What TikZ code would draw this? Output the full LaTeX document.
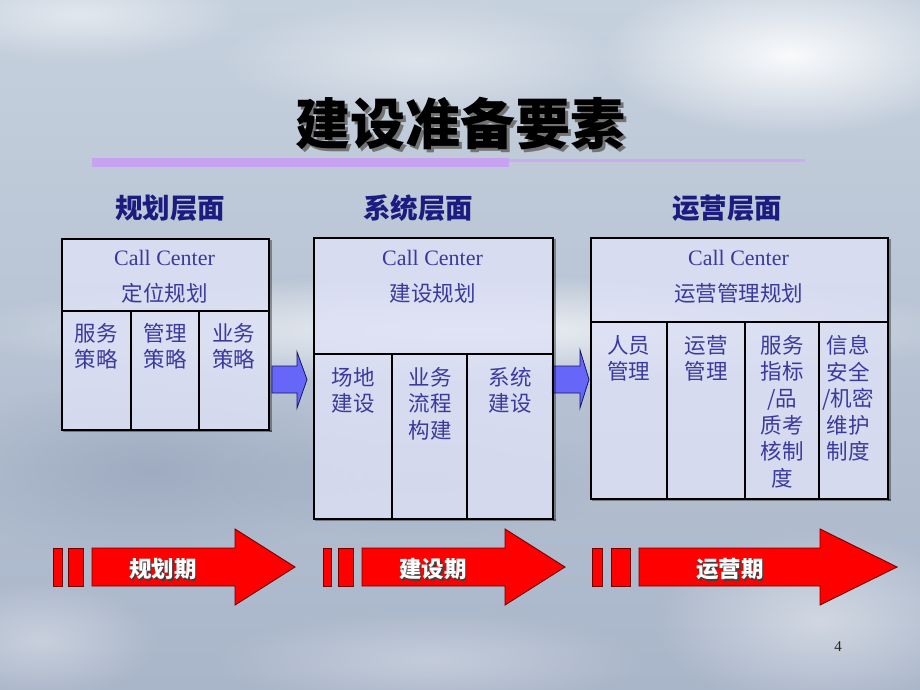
\documentclass[tikz,border=0pt]{standalone}
\usepackage{fontspec}
\setmainfont{Liberation Serif}
\newfontfamily\cjk{Noto Sans CJK SC}
\usetikzlibrary{fadings}
\definecolor{navy}{HTML}{1B1B80}
\definecolor{boxtext}{HTML}{3A3A9E}
\definecolor{lav}{HTML}{C7A2F0}
\definecolor{lavlight}{HTML}{CDAAF2}
\definecolor{boxfill}{HTML}{DEE1F6}
\definecolor{bluearrow}{HTML}{6666F8}
\definecolor{redarrow}{HTML}{FF0000}
\definecolor{skytop}{HTML}{C6D1DE}
\definecolor{skymid}{HTML}{DFE6EE}
\definecolor{skybot}{HTML}{A9B5C9}
\definecolor{skydark}{HTML}{8E9CB5}
\definecolor{skydarkb}{HTML}{95A3BA}
\newcommand{\shadowed}[3]{\makebox[0pt][l]{\hspace{#1}\raisebox{-#1}{\color{#2}#3}}#3}
\tikzfading[name=blobfade, inner color=transparent!0, outer color=transparent!100]
\tikzset{
  blob/.style={fill=#1, path fading=blobfade},
  titletext/.style={font=\cjk\bfseries\fontsize{55}{60}\selectfont, inner sep=0pt, text=black},
  hdr/.style={font=\cjk\bfseries\fontsize{27.5}{30}\selectfont, text=navy, inner sep=0pt},
  boxframe/.style={draw=black, line width=1.8pt, fill=boxfill, fill opacity=0.82, inner sep=0pt, anchor=north west},
  divline/.style={draw=black, line width=1.3pt},
  latin/.style={font=\fontsize{22}{26}\selectfont, text=boxtext, inner sep=0pt},
  cjkline/.style={font=\cjk\fontsize{21.5}{26.6}\selectfont, text=boxtext, inner sep=0pt},
  coltext/.style={font=\cjk\fontsize{21.5}{26.6}\selectfont, text=boxtext, inner sep=0pt, align=center, anchor=north},
  bluearr/.style={fill=bluearrow, draw=navy!80!black, line width=0.8pt, line join=miter},
  redarr/.style={fill=redarrow, draw=red!45!black, line width=0.9pt, line join=miter},
  phase/.style={font=\cjk\bfseries\fontsize{22.5}{24}\selectfont, text=white, inner sep=0pt},
  shadowstrip/.style={fill=black, opacity=0.35}
}
\begin{document}
\begin{tikzpicture}[x=1pt,y=-1pt]
\useasboundingbox (0,0) rectangle (920,690);
% background sky
\shade[top color=skytop, middle color=skymid, bottom color=skybot] (0,0) rectangle (920,690);
\fill[blob=white, opacity=0.9] (790,55) ellipse [x radius=190, y radius=80];
\fill[blob=white, opacity=0.5] (80,15) ellipse [x radius=160, y radius=45];
\fill[blob=white, opacity=0.45] (420,60) ellipse [x radius=200, y radius=60];
\fill[blob=white, opacity=0.75] (470,330) ellipse [x radius=520, y radius=55];
\fill[blob=skydark, opacity=0.55] (150,470) ellipse [x radius=230, y radius=90];
\fill[blob=skydarkb, opacity=0.4] (420,480) ellipse [x radius=200, y radius=60];
\fill[blob=white, opacity=0.45] (820,620) ellipse [x radius=170, y radius=90];
\fill[blob=white, opacity=0.3] (430,660) ellipse [x radius=220, y radius=50];
\fill[blob=white, opacity=0.35] (40,640) ellipse [x radius=120, y radius=60];

% title
\node[titletext] (title) at (460,125) {\shadowed{3pt}{black!55}{建设准备要素}};
\fill[lav] (92,158) rectangle (509,167);
\fill[lavlight] (509,159) rectangle (805,162);

% headers
\node[hdr] (h1) at (170,208) {规划层面};
\node[hdr] (h2) at (418,208) {系统层面};
\node[hdr] (h3) at (727,208) {运营层面};

% blue arrows
\path[bluearr] (272,366) -- (297,366) -- (297,352) -- (307,379.5) -- (297,408) -- (297,393) -- (272,393) -- cycle;
\path[bluearr] (552,366) -- (580,366) -- (580,350) -- (589,379.5) -- (580,408) -- (580,393) -- (552,393) -- cycle;

% box 1
\fill[shadowstrip] (269,240) rectangle (272,432);
\fill[shadowstrip] (63,430) rectangle (272,432);
\node[boxframe, minimum width=207pt, minimum height=191pt] (b1) at (61,238) {};
\draw[divline] (61,311) -- (268,311);
\draw[divline] (131,311) -- (131,429);
\draw[divline] (199,311) -- (199,429);
\node[latin] (b1a) at (164.5,258) {Call Center};
\node[cjkline] (b1b) at (164.5,293) {定位规划};
\node[coltext] (b1c1) at (96,323) {服务\\策略};
\node[coltext] (b1c2) at (165,323) {管理\\策略};
\node[coltext] (b1c3) at (233.5,323) {业务\\策略};

% box 2
\fill[shadowstrip] (553,239) rectangle (556,521);
\fill[shadowstrip] (315,519) rectangle (556,521);
\node[boxframe, minimum width=239pt, minimum height=281pt] (b2) at (313,237) {};
\draw[divline] (313,354) -- (552,354);
\draw[divline] (392,354) -- (392,518);
\draw[divline] (467,354) -- (467,518);
\node[latin] (b2a) at (432.5,258) {Call Center};
\node[cjkline] (b2b) at (432.5,293) {建设规划};
\node[coltext] (b2c1) at (353,367) {场地\\建设};
\node[coltext] (b2c2) at (430,367) {业务\\流程\\构建};
\node[coltext] (b2c3) at (510,367) {系统\\建设};

% box 3
\fill[shadowstrip] (888,239) rectangle (891,501);
\fill[shadowstrip] (592,499) rectangle (891,501);
\node[boxframe, minimum width=297pt, minimum height=261pt] (b3) at (590,237) {};
\draw[divline] (590,322) -- (887,322);
\draw[divline] (667,322) -- (667,498);
\draw[divline] (745,322) -- (745,498);
\draw[divline] (819,322) -- (819,498);
\node[latin] (b3a) at (738.5,258) {Call Center};
\node[cjkline] (b3b) at (738.5,293) {运营管理规划};
\node[coltext] (b3c1) at (628.5,335) {人员\\管理};
\node[coltext] (b3c2) at (706,335) {运营\\管理};
\node[coltext] (b3c3) at (782,335) {服务\\指标\\/品\\质考\\核制\\度};
\node[coltext] (b3c4) at (848,335) {信息\\安全\\/机密\\维护\\制度};

% red phase arrows
\path[redarr] (53,548) rectangle (62,586);
\path[redarr] (68,548) rectangle (83,586);
\path[redarr] (92,548) -- (235,548) -- (235,529) -- (295,567) -- (235,605) -- (235,586) -- (92,586) -- cycle;
\node[phase] (p1) at (163,570) {\shadowed{1.5pt}{black!75}{规划期}};

\path[redarr] (323,548) rectangle (331,586);
\path[redarr] (338,548) rectangle (353,586);
\path[redarr] (362,548) -- (505,548) -- (505,529) -- (565,567) -- (505,605) -- (505,586) -- (362,586) -- cycle;
\node[phase] (p2) at (433,570) {\shadowed{1.5pt}{black!75}{建设期}};

\path[redarr] (592,548) rectangle (602,586);
\path[redarr] (611,548) rectangle (630,586);
\path[redarr] (639,548) -- (820,548) -- (820,529) -- (897,567) -- (820,605) -- (820,586) -- (639,586) -- cycle;
\node[phase] (p3) at (730,570) {\shadowed{1.5pt}{black!75}{运营期}};

% page number
\node[font=\fontsize{15}{18}\selectfont, text=black!85, inner sep=0pt] (pg) at (838,647) {4};
\end{tikzpicture}
\end{document}
